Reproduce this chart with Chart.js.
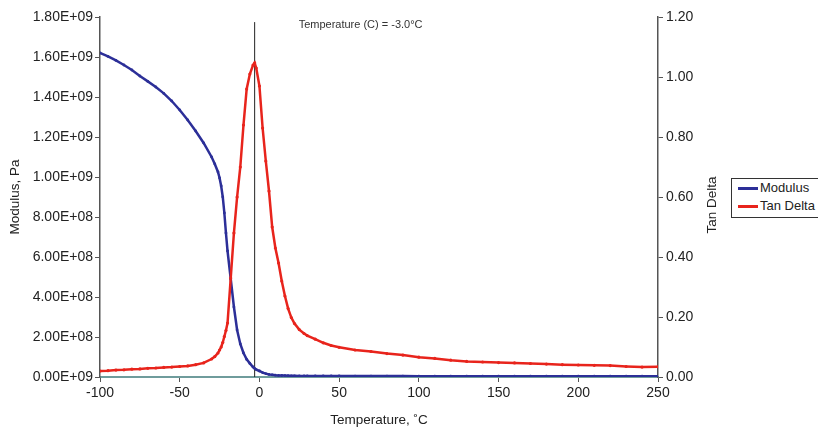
<!DOCTYPE html>
<html>
<head>
<meta charset="utf-8">
<script src="https://cdn.jsdelivr.net/npm/chart.js@4.4.0/dist/chart.umd.min.js"></script>
<style>
  body { margin: 0; background: #fff; overflow: hidden; }
  #wrap { position: relative; width: 818px; height: 432px; }
  #legend {
    position: absolute; left: 731px; top: 178px; width: 100px; height: 38px;
    border: 1px solid #333; background: #fff;
    font: 13px "Liberation Sans", Arial, sans-serif; color: #222;
  }
  #legend div { height: 18px; line-height: 18px; white-space: nowrap; }
  #legend span.sw { display: inline-block; width: 20px; height: 3px; vertical-align: middle; margin: 0 2px 0 6px; }
</style>
</head>
<body>
<div id="wrap">
  <canvas id="dma"></canvas>
  <div id="legend"></div>
</div>
<script>
// temperatures (°C) shared by both series
const temps = [-100, -95, -90, -85, -80, -75, -70, -65, -60, -55, -50, -45, -40, -35, -30, -28, -26, -25, -24, -23,
  -22, -21, -20, -18, -16, -14, -12, -10, -8, -6, -4, -3, -2, 0, 2, 4, 6, 8, 10, 12, 14, 16, 18, 20, 22, 25, 28,
  30, 35, 40, 45, 50, 60, 70, 80, 90, 100, 110, 120, 130, 140, 150, 160, 170, 180, 190, 200, 210, 220, 230, 240, 250];

// storage modulus, Pa
const modulus = [1.62e9, 1.603e9, 1.583e9, 1.56e9, 1.535e9, 1.505e9, 1.478e9, 1.45e9, 1.418e9, 1.38e9, 1.335e9,
  1.285e9, 1.23e9, 1.17e9, 1.10e9, 1.065e9, 1.025e9, 0.995e9, 0.955e9, 0.90e9,
  0.82e9, 0.72e9, 0.63e9, 0.49e9, 0.35e9, 0.235e9, 0.165e9, 0.12e9, 0.088e9, 0.068e9, 0.05e9, 0.043e9, 0.037e9,
  0.03e9, 0.022e9, 0.017e9, 0.013e9, 0.011e9, 0.009e9, 0.008e9, 0.0075e9, 0.007e9, 0.0065e9, 0.006e9, 0.006e9,
  0.0055e9, 0.0055e9, 0.005e9, 0.005e9, 0.005e9, 0.005e9, 0.005e9, 0.0045e9, 0.0045e9, 0.0045e9, 0.0045e9,
  0.004e9, 0.004e9, 0.004e9, 0.004e9, 0.004e9, 0.004e9, 0.004e9, 0.004e9, 0.004e9, 0.004e9, 0.004e9, 0.004e9,
  0.004e9, 0.004e9, 0.004e9, 0.004e9];

// tan delta
const tanDelta = [0.02, 0.021, 0.023, 0.024, 0.026, 0.027, 0.029, 0.03, 0.032, 0.033, 0.035, 0.037, 0.041, 0.047,
  0.06, 0.068, 0.08, 0.09, 0.10, 0.115,
  0.135, 0.155, 0.18, 0.33, 0.48, 0.60, 0.70, 0.84, 0.96, 1.01, 1.04, 1.047, 1.03, 0.97, 0.83, 0.72, 0.62, 0.50,
  0.43, 0.38, 0.32, 0.27, 0.228, 0.198, 0.178, 0.158, 0.145, 0.138, 0.126, 0.114, 0.105, 0.099,
  0.09, 0.085, 0.078, 0.073, 0.066, 0.062, 0.056, 0.052, 0.05, 0.048, 0.047, 0.045, 0.043, 0.041, 0.04, 0.039,
  0.038, 0.035, 0.033, 0.034];

const cursorTemp = -3.0;
const cursorTop = 1.183;   // top of the cursor line, tan delta units

const tempTickLabels = ['-100', '-50', '0', '50', '100', '150', '200', '250'];
const modulusTickLabels = ['0.00E+09', '2.00E+08', '4.00E+08', '6.00E+08', '8.00E+08', '1.00E+09',
  '1.20E+09', '1.40E+09', '1.60E+09', '1.80E+09'];
const tanTickLabels = ['0.00', '0.20', '0.40', '0.60', '0.80', '1.00', '1.20'];

const blue = '#2c2f98';
const red = '#e8241c';
const fontFamily = '"Liberation Sans", Arial, sans-serif';
const font = { family: fontFamily, size: 14 };
const titleFont = { family: fontFamily, size: 13.5 };

// cursor readout + right axis title (reads bottom to top like the left one)
const extras = {
    id: 'extras',
    afterDraw(chart) {
        const ctx = chart.ctx;
        const area = chart.chartArea;
        const x = chart.scales.x.getPixelForValue(cursorTemp);
        ctx.save();
        ctx.font = '11px ' + fontFamily;
        ctx.fillStyle = '#333';
        ctx.textBaseline = 'middle';
        ctx.fillText('Temperature (C) = ' + cursorTemp.toFixed(1) + '°C', x + 44, area.top + 8);

        const r = chart.scales.y1;
        ctx.font = '13.5px ' + fontFamily;
        ctx.fillStyle = '#222';
        ctx.textAlign = 'center';
        ctx.translate(r.right - 8, (area.top + area.bottom) / 2 + 8);
        ctx.rotate(-Math.PI / 2);
        ctx.fillText('Tan Delta', 0, 0);
        ctx.restore();
    }
};

const ctx = document.getElementById('dma').getContext('2d');
const chart = new Chart(ctx, {
    type: 'line',
    data: {
        datasets: [
            {
                label: 'Tan Delta',
                data: temps.map((t, i) => ({ x: t, y: tanDelta[i] })),
                yAxisID: 'y1',
                borderColor: red,
                backgroundColor: red,
                borderWidth: 2.5,
                pointRadius: 1.6,
                pointBorderWidth: 0,
                tension: 0
            },
            {
                label: 'Modulus',
                data: temps.map((t, i) => ({ x: t, y: modulus[i] })),
                yAxisID: 'y',
                borderColor: blue,
                backgroundColor: blue,
                borderWidth: 2.5,
                pointRadius: 1.4,
                pointBorderWidth: 0,
                tension: 0
            },
            {
                label: 'cursor',
                data: [{ x: cursorTemp, y: 0 }, { x: cursorTemp, y: cursorTop }],
                yAxisID: 'y1',
                borderColor: '#222',
                borderWidth: 1,
                pointRadius: 0
            }
        ]
    },
    options: {
        responsive: true,
        maintainAspectRatio: false,
        animation: false,
        layout: { padding: { left: 4, right: 98, top: 17, bottom: 0 } },
        plugins: { legend: { display: false }, tooltip: { enabled: false } },
        scales: {
            x: {
                type: 'linear', min: -100, max: 250,
                ticks: { stepSize: 50, font: font, color: '#222', padding: 3,
                    callback: (v, i) => tempTickLabels[i] },
                grid: { drawOnChartArea: false, tickLength: 5, color: '#555' },
                border: { color: '#6f9c9c', width: 2 },
                title: { display: true, text: 'Temperature, ˚C', font: titleFont, color: '#222',
                    padding: { top: 2, bottom: 4 } },
                afterFit: s => { s.height = 55; }
            },
            y: {
                position: 'left', min: 0, max: 1.8e9,
                ticks: { stepSize: 2e8, font: font, color: '#222', padding: 2,
                    callback: (v, i) => modulusTickLabels[i] },
                grid: { drawOnChartArea: false, tickLength: 5, color: '#555' },
                border: { color: '#555', width: 1.5 },
                title: { display: true, text: 'Modulus, Pa', font: titleFont, color: '#222',
                    padding: { top: 3, bottom: 4 } },
                afterFit: s => { s.width = 96; }
            },
            y1: {
                position: 'right', min: 0, max: 1.2,
                ticks: { stepSize: 0.2, font: font, color: '#222', padding: 3,
                    callback: (v, i) => tanTickLabels[i] },
                grid: { drawOnChartArea: false, tickLength: 5, color: '#555' },
                border: { color: '#555', width: 1.5 },
                afterFit: s => { s.width = 62; }
            }
        }
    },
    plugins: [extras]
});

// html legend, modulus first like the original
const legend = document.getElementById('legend');
[chart.data.datasets[1], chart.data.datasets[0]].forEach(ds => {
    const row = document.createElement('div');
    row.innerHTML = '<span class="sw" style="background:' + ds.borderColor + '"></span>' + ds.label;
    legend.appendChild(row);
});
</script>
</body>
</html>
